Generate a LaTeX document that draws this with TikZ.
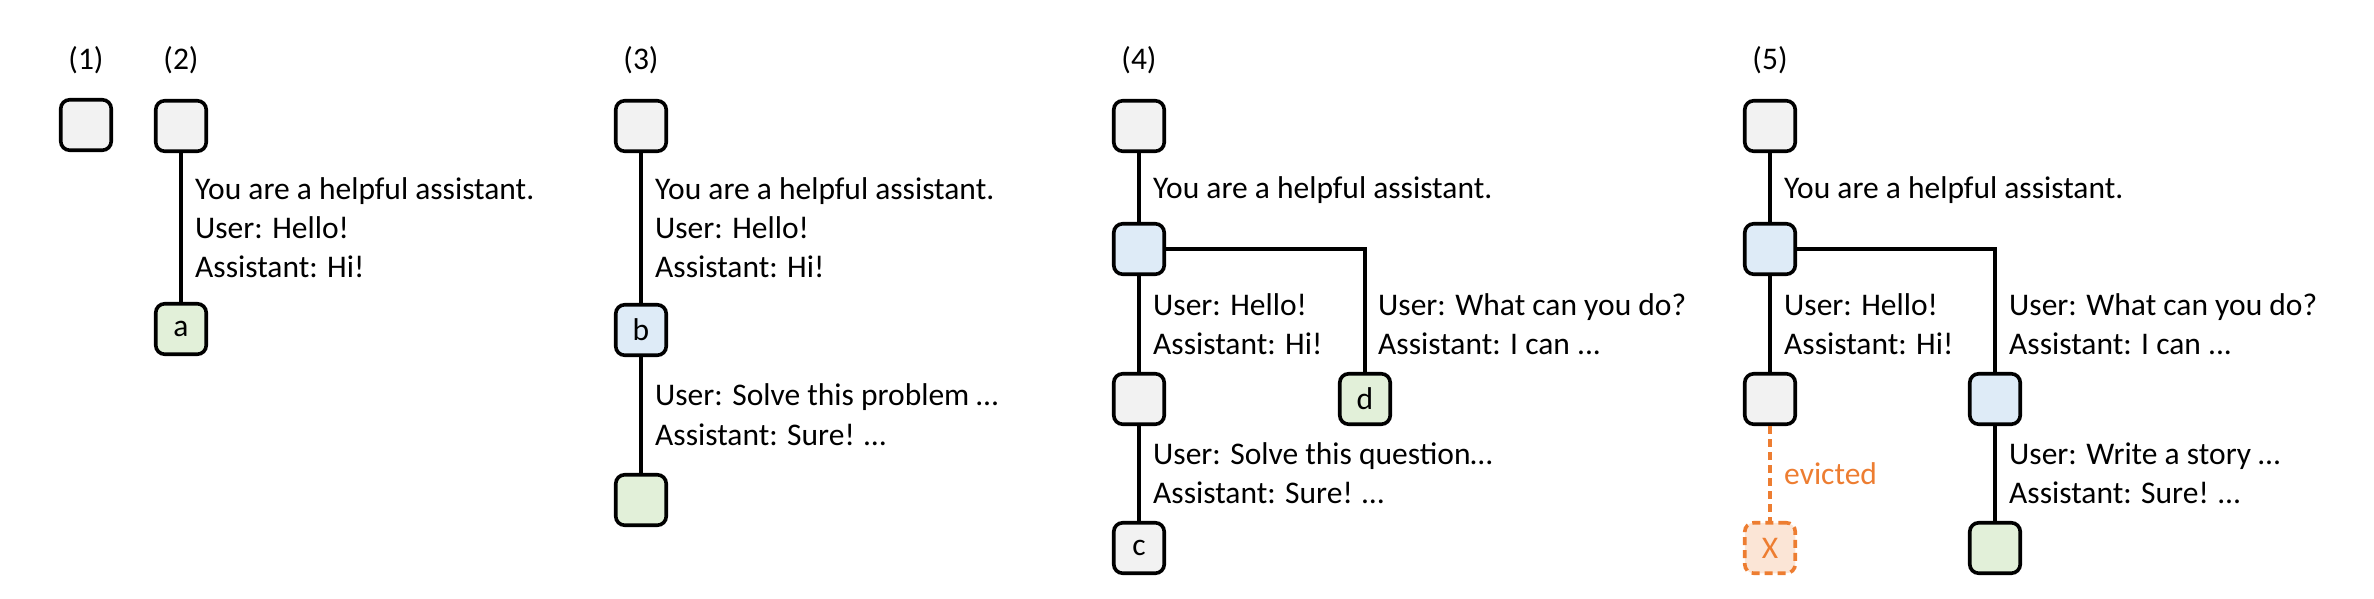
\documentclass[tikz,border=0pt]{standalone}
\usepackage{fontspec}
\setmainfont{Carlito}
\definecolor{gfill}{HTML}{F2F2F2}
\definecolor{bfill}{HTML}{DEEBF7}
\definecolor{grfill}{HTML}{E2F0D9}
\definecolor{ofill}{HTML}{FBE5D6}
\definecolor{ostroke}{HTML}{ED7D31}
\begin{document}
\begin{tikzpicture}[x=1pt,y=-1pt,
  box/.style={draw=black,line width=3.6pt,rounded corners=9pt,minimum size=50.5pt,inner sep=0pt,
    font=\fontsize{31.5}{38}\selectfont},
  gbox/.style={box,fill=gfill},
  bbox/.style={box,fill=bfill},
  grbox/.style={box,fill=grfill},
  xbox/.style={box,draw=ostroke,fill=ofill,dashed,dash pattern=on 8pt off 5pt,text=ostroke},
  conn/.style={draw=black,line width=3.2pt},
  evict/.style={draw=ostroke,line width=3.2pt,dash pattern=on 8pt off 5pt},
  txt/.style={anchor=base west,inner sep=0pt,font=\fontsize{31.5}{38}\selectfont},
  lbl/.style={anchor=base,inner sep=0pt,font=\fontsize{31.5}{38}\selectfont}]
\useasboundingbox (0,0) rectangle (2374,598);

% labels
\node[lbl] (l1) at (86,69) {(1)};
\node[lbl] (l2) at (181,69) {(2)};
\node[lbl] (l3) at (641,69) {(3)};
\node[lbl] (l4) at (1139,69) {(4)};
\node[lbl] (l5) at (1770,69) {(5)};

% (1)
\node[gbox] (p1) at (86,125) {};

% (2)
\node[gbox] (p2t) at (181,126) {};
\node[grbox] (p2a) at (181,329) {a};
\draw[conn] (p2t) -- (p2a);
\node[txt] (t2a) at (195,199) {You are a helpful assistant.};
\node[txt] (t2b) at (195,238) {User: Hello!};
\node[txt] (t2c) at (195,277) {Assistant: Hi!};

% (3)
\node[gbox] (p3t) at (641,126) {};
\node[bbox] (p3b) at (641,330) {b};
\node[grbox] (p3g) at (641,500) {};
\draw[conn] (p3t) -- (p3b);
\draw[conn] (p3b) -- (p3g);
\node[txt] (t3a) at (655,199) {You are a helpful assistant.};
\node[txt] (t3b) at (655,238) {User: Hello!};
\node[txt] (t3c) at (655,277) {Assistant: Hi!};
\node[txt] (t3d) at (655,405) {User: Solve this problem …};
\node[txt] (t3e) at (655,445) {Assistant: Sure! …};

% (4)
\node[gbox] (p4t) at (1139,126) {};
\node[bbox] (p4b) at (1139,249) {};
\node[gbox] (p4g) at (1139,399) {};
\node[gbox] (p4c) at (1139,548) {c};
\node[grbox] (p4d) at (1365,399) {d};
\draw[conn] (p4t) -- (p4b);
\draw[conn] (p4b) -- (p4g);
\draw[conn] (p4g) -- (p4c);
\draw[conn] (p4b.east) -| (p4d.north);
\node[txt] (t4a) at (1153,198) {You are a helpful assistant.};
\node[txt] (t4b) at (1153,315) {User: Hello!};
\node[txt] (t4c) at (1153,354) {Assistant: Hi!};
\node[txt] (t4d) at (1378,315) {User: What can you do?};
\node[txt] (t4e) at (1378,354) {Assistant: I can ...};
\node[txt] (t4f) at (1153,464) {User: Solve this question…};
\node[txt] (t4g) at (1153,503) {Assistant: Sure! …};

% (5)
\node[gbox] (p5t) at (1770,126) {};
\node[bbox] (p5b) at (1770,249) {};
\node[gbox] (p5g) at (1770,399) {};
\node[xbox] (p5x) at (1770,548) {X};
\node[bbox] (p5r) at (1995,399) {};
\node[grbox] (p5s) at (1995,548) {};
\draw[conn] (p5t) -- (p5b);
\draw[conn] (p5b) -- (p5g);
\draw[evict] (p5g) -- (p5x);
\draw[conn] (p5b.east) -| (p5r.north);
\draw[conn] (p5r) -- (p5s);
\node[txt] (t5a) at (1784,198) {You are a helpful assistant.};
\node[txt] (t5b) at (1784,315) {User: Hello!};
\node[txt] (t5c) at (1784,354) {Assistant: Hi!};
\node[txt] (t5d) at (2009,315) {User: What can you do?};
\node[txt] (t5e) at (2009,354) {Assistant: I can ...};
\node[txt] (t5f) at (2009,464) {User: Write a story …};
\node[txt] (t5g) at (2009,503) {Assistant: Sure! …};
\node[txt,text=ostroke] (t5h) at (1784,484) {evicted};
\end{tikzpicture}
\end{document}
